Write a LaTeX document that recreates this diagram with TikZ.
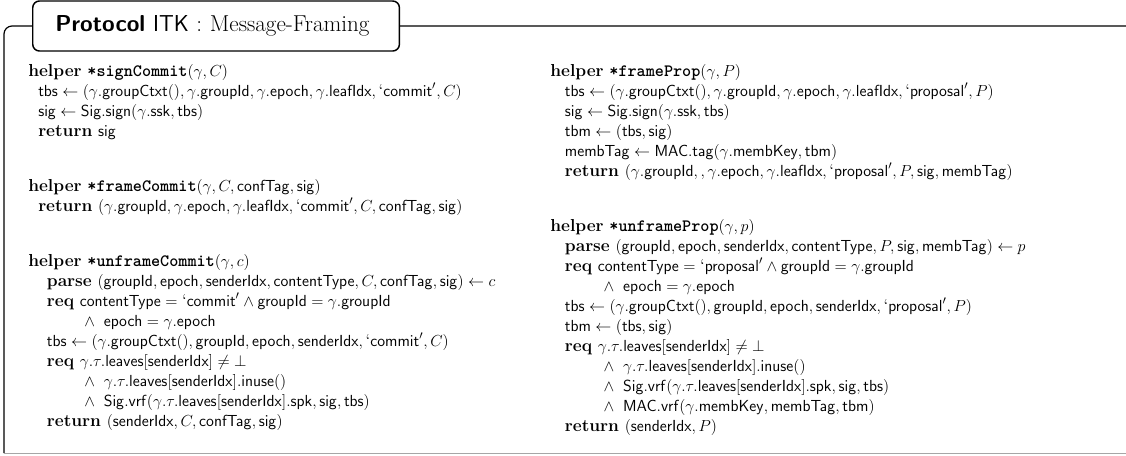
\documentclass[tikz,border=0pt]{standalone}
\usepackage{amsmath,amssymb}

\newcommand{\kw}[1]{\textbf{#1}}
\newcommand{\pname}[1]{\texttt{\textbf{*#1}}}
\newcommand{\vs}[1]{\mathsf{#1}}
\newcommand{\lbl}[1]{\text{`}\mathsf{#1}'}
\newcommand{\bl}{\hspace*{7.5pt}}
\newcommand{\bll}{\hspace*{14pt}}
\newcommand{\cl}{\hspace*{42pt}}
\newcommand{\clr}{\hspace*{40pt}}
\newcommand{\blr}{\hspace*{11pt}}

\tikzset{
  titlebox/.style={draw, line width=1.1pt, rounded corners=5pt, fill=white, anchor=west,
    inner xsep=17pt, text width=241pt, minimum height=37.5pt, align=left,
    font=\fontsize{17.28}{20}\selectfont},
  codeblock/.style={anchor=base west, inner sep=0pt, text width=470pt, align=left,
    font=\fontsize{13}{15}\selectfont},
  frameline/.style={line width=0.9pt},
}

\begin{document}
\begin{tikzpicture}[x=0.75pt,y=-0.75pt]
  \useasboundingbox (0,0) rectangle (1126,455);
  % Rahmen
  \draw[frameline, rounded corners=6pt] (1130,26) -- (4,26) -- (4,453);
  \draw[gray!70, line width=0.6pt] (4,453) -- (1130,453);
  \node[titlebox] (title) at (32,26) {\textsf{\textbf{Protocol} ITK} : Message-Framing};
  % Linke Spalte
  \node[codeblock] (signCommit) at (28,76) {%
    \kw{helper} \pname{signCommit}$(\gamma, C)$\\
    \bl $\vs{tbs} \gets (\gamma.\vs{groupCtxt}(), \gamma.\vs{groupId}, \gamma.\vs{epoch}, \gamma.\vs{leafIdx}, \lbl{commit}, C)$\\
    \bl $\vs{sig} \gets \vs{Sig.sign}(\gamma.\vs{ssk}, \vs{tbs})$\\
    \bl \kw{return} $\vs{sig}$};
  \node[codeblock] (frameCommit) at (28,191) {%
    \kw{helper} \pname{frameCommit}$(\gamma, C, \vs{confTag}, \vs{sig})$\\
    \bl \kw{return} $(\gamma.\vs{groupId}, \gamma.\vs{epoch}, \gamma.\vs{leafIdx}, \lbl{commit}, C, \vs{confTag}, \vs{sig})$};
  \node[codeblock] (unframeCommit) at (28,266) {%
    \kw{helper} \pname{unframeCommit}$(\gamma, c)$\\
    \bll \kw{parse} $(\vs{groupId}, \vs{epoch}, \vs{senderIdx}, \vs{contentType}, C, \vs{confTag}, \vs{sig}) \gets c$\\
    \bll \kw{req} $\vs{contentType} = \lbl{commit} \land \vs{groupId} = \gamma.\vs{groupId}$\\
    \cl $\land\;\; \vs{epoch} = \gamma.\vs{epoch}$\\
    \bll $\vs{tbs} \gets (\gamma.\vs{groupCtxt}(), \vs{groupId}, \vs{epoch}, \vs{senderIdx}, \lbl{commit}, C)$\\
    \bll \kw{req} $\gamma.\tau.\vs{leaves}[\vs{senderIdx}] \neq \bot$\\
    \cl $\land\;\; \gamma.\tau.\vs{leaves}[\vs{senderIdx}].\vs{inuse}()$\\
    \cl $\land\;\; \vs{Sig.vrf}(\gamma.\tau.\vs{leaves}[\vs{senderIdx}].\vs{spk}, \vs{sig}, \vs{tbs})$\\
    \bll \kw{return} $(\vs{senderIdx}, C, \vs{confTag}, \vs{sig})$};
  % Rechte Spalte
  \node[codeblock] (frameProp) at (550,76) {%
    \kw{helper} \pname{frameProp}$(\gamma, P)$\\
    \blr $\vs{tbs} \gets (\gamma.\vs{groupCtxt}(), \gamma.\vs{groupId}, \gamma.\vs{epoch}, \gamma.\vs{leafIdx}, \lbl{proposal}, P)$\\
    \blr $\vs{sig} \gets \vs{Sig.sign}(\gamma.\vs{ssk}, \vs{tbs})$\\
    \blr $\vs{tbm} \gets (\vs{tbs}, \vs{sig})$\\
    \blr $\vs{membTag} \gets \vs{MAC.tag}(\gamma.\vs{membKey}, \vs{tbm})$\\
    \blr \kw{return} $(\gamma.\vs{groupId}, , \gamma.\vs{epoch}, \gamma.\vs{leafIdx}, \lbl{proposal}, P, \vs{sig}, \vs{membTag})$};
  \node[codeblock] (unframeProp) at (550,231) {%
    \kw{helper} \pname{unframeProp}$(\gamma, p)$\\
    \blr \kw{parse} $(\vs{groupId}, \vs{epoch}, \vs{senderIdx}, \vs{contentType}, P, \vs{sig}, \vs{membTag}) \gets p$\\
    \blr \kw{req} $\vs{contentType} = \lbl{proposal} \land \vs{groupId} = \gamma.\vs{groupId}$\\
    \clr $\land\;\; \vs{epoch} = \gamma.\vs{epoch}$\\
    \blr $\vs{tbs} \gets (\gamma.\vs{groupCtxt}(), \vs{groupId}, \vs{epoch}, \vs{senderIdx}, \lbl{proposal}, P)$\\
    \blr $\vs{tbm} \gets (\vs{tbs}, \vs{sig})$\\
    \blr \kw{req} $\gamma.\tau.\vs{leaves}[\vs{senderIdx}] \neq \bot$\\
    \clr $\land\;\; \gamma.\tau.\vs{leaves}[\vs{senderIdx}].\vs{inuse}()$\\
    \clr $\land\;\; \vs{Sig.vrf}(\gamma.\tau.\vs{leaves}[\vs{senderIdx}].\vs{spk}, \vs{sig}, \vs{tbs})$\\
    \clr $\land\;\; \vs{MAC.vrf}(\gamma.\vs{membKey}, \vs{membTag}, \vs{tbm})$\\
    \blr \kw{return} $(\vs{senderIdx}, P)$};
\end{tikzpicture}
\end{document}
